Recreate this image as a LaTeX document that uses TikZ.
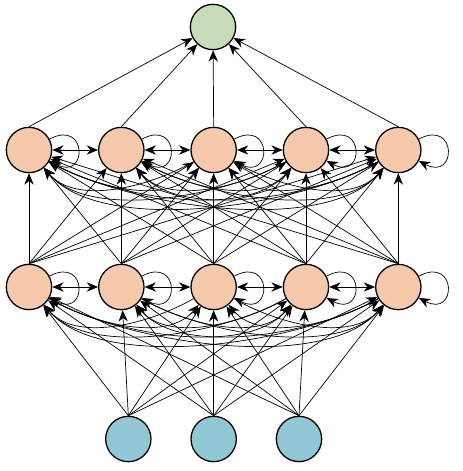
\documentclass[tikz,border=0pt]{standalone}
\usepackage{xcolor}
\usetikzlibrary{positioning,arrows.meta}

\definecolor{hiddenfill}{RGB}{246,200,172}
\definecolor{outfill}{RGB}{200,220,186}
\definecolor{infill}{RGB}{146,200,214}

\begin{document}
\begin{tikzpicture}[
  neuron/.style={circle, draw=black, line width=1.1pt, minimum size=1.36cm, inner sep=0pt},
  link/.style={-{Stealth[length=3.4mm,width=2.8mm]}, line width=0.6pt},
  twoway/.style={{Stealth[length=3.4mm,width=2.8mm]}-{Stealth[length=3.4mm,width=2.8mm]}, line width=0.6pt}
  ]
  \useasboundingbox (0,0) rectangle (13.89,14.13);

  % Output neuron
  \node[neuron, fill=outfill] (out) at (6.39,13.32) {};

  % Hidden layers
  \foreach \i/\x in {1/0.87,2/3.64,3/6.41,4/9.18,5/11.95} {
    \node[neuron, fill=hiddenfill] (top-\i) at (\x,9.63) {};
    \node[neuron, fill=hiddenfill] (low-\i) at (\x,5.52) {};
  }

  % Input neurons
  \foreach \i/\x in {1/3.85,2/6.41,3/8.97}
    \node[neuron, fill=infill] (in-\i) at (\x,0.96) {};

  % Feed-forward links
  \foreach \i in {1,...,3}
    \foreach \j in {1,...,5}
      \draw[link] (in-\i.north) -- (low-\j);
  \foreach \i in {1,...,5}
    \foreach \j in {1,...,5}
      \draw[link] (low-\i.north) -- (top-\j);
  \foreach \i in {1,...,5}
    \draw[link] (top-\i.north) -- (out);

  % Recurrent links inside each hidden layer
  \foreach \l in {low,top} {
    \foreach \i/\j in {1/2,2/3,3/4,4/5}
      \draw[twoway] (\l-\i) -- (\l-\j);
    \foreach \i in {1,...,5}
      \draw[link] (\l-\i) to[out=28,in=-28,distance=1.3cm] (\l-\i);
    \foreach \i/\j/\d in {1/3/1.5,2/4/1.5,3/5/1.5,1/4/2.1,2/5/2.1,1/5/2.7} {
      \draw[link] (\l-\i) to[out=-30,in=-130,distance=\d cm] (\l-\j);
      \draw[link] (\l-\j) to[out=-150,in=-50,distance=\d cm] (\l-\i);
    }
  }

\end{tikzpicture}
\end{document}
